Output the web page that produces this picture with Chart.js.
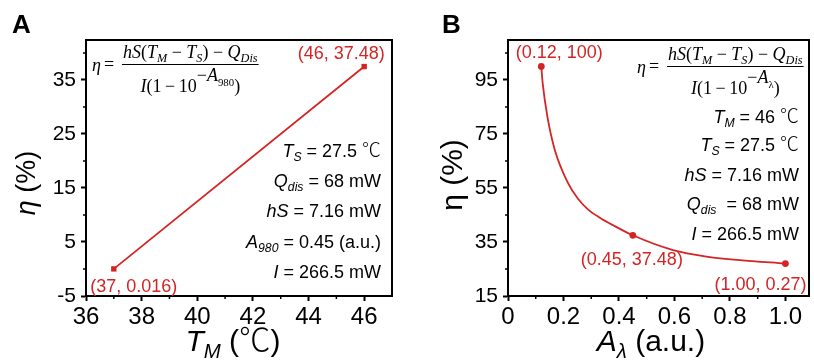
<!DOCTYPE html>
<html>
<head>
<meta charset="utf-8">
<script src="https://cdn.jsdelivr.net/npm/chart.js@4.4.1/dist/chart.umd.min.js"></script>
<style>
  body { margin: 0; background: #fff; }
  #wrap { position: relative; width: 814px; height: 362px; }
  canvas { position: absolute; top: 0; }
</style>
</head>
<body>
<div id="wrap">
  <canvas id="chart-A" width="407" height="362" style="left:0"></canvas>
  <canvas id="chart-B" width="407" height="362" style="left:407px"></canvas>
</div>
<script>
// パネルA: T_M と η
const tmA = [37, 46];
const etaA = [0.016, 37.48];
const pointLabelsA = ['(37, 0.016)', '(46, 37.48)'];
const xTicksA = [36, 38, 40, 42, 44, 46];
const xMinorA = [37, 39, 41, 43, 45];
const yTicksA = [-5, 5, 15, 25, 35];
const yMinorA = [0, 10, 20, 30, 40];

// パネルB: A_λ と η
const absB = [0.12, 0.45, 1.00];
const etaB = [100, 37.48, 27];
const pointLabelsB = ['(0.12, 100)', '(0.45, 37.48)', '(1.00, 0.27)'];
// 曲線
const curveAbsB = [0.12, 0.125, 0.142, 0.169, 0.217, 0.253, 0.289, 0.331, 0.379, 0.45, 0.595, 0.715, 0.835, 1.00];
const curveEtaB = [100, 93.8, 81.4, 69, 56.7, 50.9, 47.0, 44.0, 41.2, 37.48, 32, 29.6, 28.3, 27];
const xTicksB = [0, 0.2, 0.4, 0.6, 0.8, 1.0];
const xTickLabelsB = ['0', '0.2', '0.4', '0.6', '0.8', '1.0'];
const xMinorB = [0.1, 0.3, 0.5, 0.7, 0.9];
const yTicksB = [15, 35, 55, 75, 95];
const yMinorB = [25, 45, 65, 85, 105];

// 注記テキスト ([文字, スタイル]  i=italic, s=下付き, p=上付き, q=上付きの下付き, c=CJKフォント)
const notesA = [
    [['T', 'i'], ['S', 'is'], [' = 27.5 ', ''], ['℃', 'c']],
    [['Q', 'i'], ['dis', 'is'], [' = 68 mW', '']],
    [['hS', 'i'], [' = 7.16 mW', '']],
    [['A', 'i'], ['980', 'is'], [' = 0.45 (a.u.)', '']],
    [['I', 'i'], [' = 266.5 mW', '']]
];
const notesB = [
    [['T', 'i'], ['M', 'is'], [' = 46 ', ''], ['℃', 'c']],
    [['T', 'i'], ['S', 'is'], [' = 27.5 ', ''], ['℃', 'c']],
    [['hS', 'i'], [' = 7.16 mW', '']],
    [['Q', 'i'], ['dis', 'is'], ['  = 68 mW', '']],
    [['I', 'i'], [' = 266.5 mW', '']]
];
const numer = [['hS', 'i'], ['(', ''], ['T', 'i'], ['M', 'is'], [' − ', ''], ['T', 'i'], ['S', 'is'], [')', ''], [' − ', ''], ['Q', 'i'], ['Dis', 'is']];
const denomA = [['I', 'i'], ['(1\u2009−\u200910', ''], ['−', 'p'], ['A', 'ip'], ['980', 'q'], [')', '']];
const denomB = [['I', 'i'], ['(1\u2009−\u200910', ''], ['−', 'p'], ['A', 'ip'], ['λ', 'q'], [')', '']];

const SANS = '"Liberation Sans", Arial, "DejaVu Sans", "Noto Sans CJK SC", sans-serif';
const SERIF = '"Liberation Serif", "Times New Roman", "DejaVu Serif", serif';
const CJK = '"Noto Sans CJK SC", "DejaVu Sans", sans-serif';
const RED = '#d42424';

function segFont(style, size, family) {
    let s = size, dy = 0;
    if (style.includes('s')) { s = size * 0.68; dy = size * 0.22; }
    if (style.includes('p')) { dy = -size * 0.6; }
    if (style.includes('q')) { s = size * 0.6; dy = -size * 0.33; }
    if (style.includes('c')) { family = CJK; s = size * 1.05; }
    const it = style.includes('i') ? 'italic ' : '';
    const wt = style.includes('c') ? '300 ' : '';
    return { font: it + wt + s + 'px ' + family, dy: dy };
}

function richWidth(ctx, segs, size, family) {
    let w = 0;
    segs.forEach(sg => { ctx.font = segFont(sg[1], size, family).font; w += ctx.measureText(sg[0]).width; });
    return w;
}

function drawRich(ctx, segs, x, y, size, family, align) {
    const w = richWidth(ctx, segs, size, family);
    let cx = align === 'right' ? x - w : (align === 'center' ? x - w / 2 : x);
    ctx.textAlign = 'left';
    ctx.textBaseline = 'alphabetic';
    segs.forEach(sg => {
        const f = segFont(sg[1], size, family);
        ctx.font = f.font;
        ctx.fillText(sg[0], cx, y + f.dy);
        cx += ctx.measureText(sg[0]).width;
    });
    return w;
}

function drawFormula(ctx, x, barY, denom) {
    ctx.fillStyle = '#000';
    ctx.font = 'italic 18px ' + SERIF;
    ctx.textAlign = 'left';
    ctx.fillText('η', x, barY + 7);
    ctx.font = '18px ' + SERIF;
    ctx.fillText('=', x + 12, barY + 6);
    const left = x + 31;
    const nw = drawRich(ctx, numer, left, barY - 6, 18, SERIF, 'left');
    ctx.strokeStyle = '#000';
    ctx.lineWidth = 1;
    ctx.beginPath();
    ctx.moveTo(left - 1, barY + 0.5);
    ctx.lineTo(left + nw + 1, barY + 0.5);
    ctx.stroke();
    drawRich(ctx, denom, left + nw / 2, barY + 28, 18, SERIF, 'center');
}

function panelPlugin(p) {
    return {
        id: 'panel' + p.letter,
        afterDraw(chart) {
            const ctx = chart.ctx;
            const a = chart.chartArea;
            const xs = chart.scales.x, ys = chart.scales.y;
            ctx.save();
            // 枠
            ctx.strokeStyle = '#000';
            ctx.lineWidth = 2;
            ctx.strokeRect(a.left, a.top, a.right - a.left, a.bottom - a.top);
            // 補助目盛り
            ctx.lineWidth = 1.5;
            ctx.beginPath();
            p.xMinor.forEach(v => {
                const px = xs.getPixelForValue(v);
                ctx.moveTo(px, a.bottom); ctx.lineTo(px, a.bottom + 3);
            });
            p.yMinor.forEach(v => {
                const py = ys.getPixelForValue(v);
                ctx.moveTo(a.left, py); ctx.lineTo(a.left - 3, py);
            });
            ctx.stroke();

            ctx.fillStyle = '#000';
            // パネル記号
            ctx.font = 'bold 26px ' + SANS;
            ctx.textAlign = 'left';
            ctx.fillText(p.letter, p.letterX, 33);

            // 軸タイトル
            drawRich(ctx, p.xTitle, p.xTitleX, 351, 30, SANS, 'center');
            ctx.save();
            ctx.translate(p.yTitleX, p.yTitleY);
            ctx.rotate(-Math.PI / 2);
            drawRich(ctx, p.yTitle, 0, 10, p.yTitleSize, SANS, 'center');
            ctx.restore();

            // 数式
            drawFormula(ctx, p.formulaX, p.formulaBar, p.denom);

            // 注記
            p.notes.forEach((n, i) => drawRich(ctx, n, p.notesRight, p.notesY[i], 18, SANS, 'right'));

            // 点ラベル
            const meta = chart.getDatasetMeta(p.pointSet);
            ctx.fillStyle = RED;
            ctx.font = '18px ' + SANS;
            ctx.textAlign = 'center';
            p.pointLabels.forEach((t, i) => {
                const el = meta.data[i];
                ctx.fillText(t, el.x + p.labelOff[i][0], el.y + p.labelOff[i][1]);
            });
            ctx.restore();
        }
    };
}

function axisX(min, max, ticks, labels, h) {
    return {
        type: 'linear', min: min, max: max,
        afterBuildTicks: s => { s.ticks = ticks.map(v => ({ value: v })); },
        afterFit: s => { s.height = h; },
        ticks: {
            color: '#000', padding: 2, autoSkip: false, maxRotation: 0,
            font: { size: 24, family: SANS },
            callback: (v, i) => labels ? labels[i] : v
        },
        grid: { drawOnChartArea: false, drawTicks: true, tickLength: 5, tickWidth: 2, tickColor: '#000', color: '#000' },
        border: { display: true, color: '#000', width: 2 }
    };
}

function axisY(min, max, ticks, w, pad) {
    return {
        type: 'linear', min: min, max: max,
        afterBuildTicks: s => { s.ticks = ticks.map(v => ({ value: v })); },
        afterFit: s => { s.width = w; },
        ticks: { color: '#000', padding: pad, font: { size: 21, family: SANS } },
        grid: { drawOnChartArea: false, drawTicks: true, tickLength: 5, tickWidth: 2, tickColor: '#000', color: '#000' },
        border: { display: true, color: '#000', width: 2 }
    };
}

const baseOptions = {
    responsive: false,
    animation: false,
    events: [],
    plugins: { legend: { display: false }, tooltip: { enabled: false } }
};

// パネルA
new Chart(document.getElementById('chart-A').getContext('2d'), {
    type: 'scatter',
    data: {
        datasets: [{
            data: tmA.map((x, i) => ({ x: x, y: etaA[i] })),
            showLine: true,
            borderColor: RED,
            backgroundColor: RED,
            borderWidth: 1.8,
            pointStyle: 'rect',
            pointRadius: 3.8,
            pointBorderWidth: 0
        }]
    },
    options: Object.assign({}, baseOptions, {
        layout: { padding: { top: 40, right: 15, left: 0, bottom: 0 } },
        scales: {
            x: axisX(36, 47, xTicksA, null, 66),
            y: axisY(-5, 42.4, yTicksA, 86, 5)
        }
    }),
    plugins: [panelPlugin({
        letter: 'A', letterX: 12,
        xMinor: xMinorA, yMinor: yMinorA,
        xTitle: [['T', 'i'], ['M', 'is'], [' (', ''], ['℃', 'c'], [')', '']], xTitleX: 233,
        yTitle: [['η', 'i'], [' (%)', '']], yTitleX: 25, yTitleY: 183, yTitleSize: 27,
        formulaX: 92, formulaBar: 64, denom: denomA,
        notes: notesA, notesRight: 381, notesY: [157, 187, 217, 248, 278],
        pointSet: 0, pointLabels: pointLabelsA,
        labelOff: [[20, 23], [-23, -8]]
    })]
});

// パネルB
new Chart(document.getElementById('chart-B').getContext('2d'), {
    type: 'scatter',
    data: {
        datasets: [{
            data: curveAbsB.map((x, i) => ({ x: x, y: curveEtaB[i] })),
            showLine: true,
            borderColor: RED,
            borderWidth: 1.8,
            pointRadius: 0,
            cubicInterpolationMode: 'monotone'
        }, {
            data: absB.map((x, i) => ({ x: x, y: etaB[i] })),
            showLine: false,
            backgroundColor: RED,
            borderColor: RED,
            pointRadius: 3.4,
            pointBorderWidth: 0
        }]
    },
    options: Object.assign({}, baseOptions, {
        layout: { padding: { top: 40, right: 5, left: 0, bottom: 0 } },
        scales: {
            x: axisX(0, 1.085, xTicksB, xTickLabelsB, 66),
            y: axisY(15, 109.8, yTicksB, 101, 5)
        }
    }),
    plugins: [panelPlugin({
        letter: 'B', letterX: 35,
        xMinor: xMinorB, yMinor: yMinorB,
        xTitle: [['A', 'i'], ['λ', 'is'], [' (a.u.)', '']], xTitleX: 244,
        yTitle: [['η', ''], [' (%)', '']], yTitleX: 45, yTitleY: 175, yTitleSize: 30,
        formulaX: 230, formulaBar: 66, denom: denomB,
        notes: notesB, notesRight: 392, notesY: [123, 151, 181, 210, 240],
        pointSet: 1, pointLabels: pointLabelsB,
        labelOff: [[18, -8], [-1, 30], [-25, 26]]
    })]
});
</script>
</body>
</html>
